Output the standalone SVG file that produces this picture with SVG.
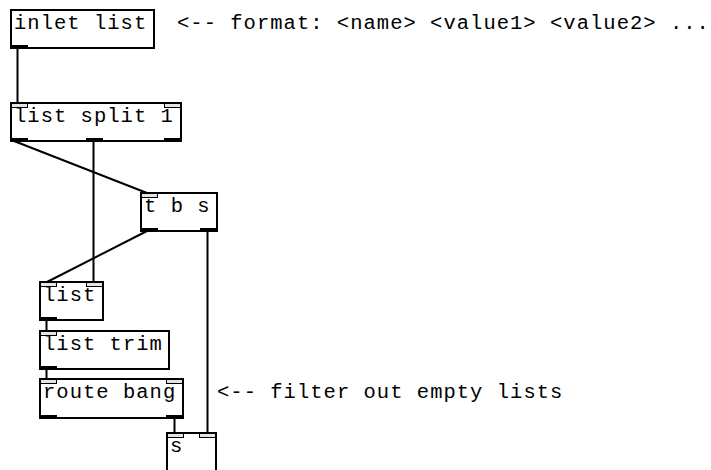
<svg xmlns="http://www.w3.org/2000/svg" width="711" height="470" viewBox="0 0 711 470">
<style>
.box{fill:#fff;stroke:#000;stroke-width:2}
.in{fill:#e4e4e4;stroke:#000;stroke-width:1}
.out{fill:#000}
.t{font-family:"Liberation Mono","DejaVu Sans Mono",monospace;font-size:20.5px;letter-spacing:1.02px;fill:#000}
.c{stroke:#000;stroke-width:2;fill:none}
</style>
<rect width="711" height="470" fill="#fff"/>
<g id="connectors">
<line class="c" x1="17.5" y1="48" x2="17.5" y2="103"/>
<line class="c" x1="14" y1="141" x2="147" y2="193"/>
<line class="c" x1="93.5" y1="141" x2="93.5" y2="282"/>
<line class="c" x1="147" y1="231" x2="47" y2="282"/>
<line class="c" x1="207.5" y1="231" x2="207.5" y2="433"/>
<line class="c" x1="46.5" y1="320" x2="46.5" y2="331"/>
<line class="c" x1="46.5" y1="369" x2="46.5" y2="379"/>
<line class="c" x1="174.5" y1="418" x2="174.5" y2="433"/>
</g>
<g id="inlet_list">
<rect class="box" x="11" y="10" width="143" height="38"/>
<text class="t" x="14" y="28.5">inlet list</text>
<rect class="out" x="11" y="45" width="17" height="4"/>
</g>
<g id="list_split">
<rect class="box" x="11" y="103" width="170" height="38"/>
<text class="t" x="14" y="121.5">list split 1</text>
<rect class="in" x="11.5" y="103.5" width="16" height="4"/>
<rect class="in" x="164.5" y="103.5" width="16" height="4"/>
<rect class="out" x="11" y="138" width="17" height="4"/>
<rect class="out" x="86" y="138" width="17" height="4"/>
<rect class="out" x="164" y="138" width="17" height="4"/>
</g>
<g id="t_b_s">
<rect class="box" x="141" y="193" width="76" height="38"/>
<text class="t" x="144" y="211.5">t b s</text>
<rect class="in" x="141.5" y="193.5" width="16" height="4"/>
<rect class="out" x="141" y="228" width="17" height="4"/>
<rect class="out" x="200" y="228" width="17" height="4"/>
</g>
<g id="list">
<rect class="box" x="40" y="282" width="63" height="38"/>
<text class="t" x="43" y="300.5">list</text>
<rect class="in" x="40.5" y="282.5" width="16" height="4"/>
<rect class="in" x="86.5" y="282.5" width="16" height="4"/>
<rect class="out" x="40" y="317" width="17" height="4"/>
</g>
<g id="list_trim">
<rect class="box" x="40" y="331" width="129" height="38"/>
<text class="t" x="43" y="349.5">list trim</text>
<rect class="in" x="40.5" y="331.5" width="16" height="4"/>
<rect class="out" x="40" y="366" width="17" height="4"/>
</g>
<g id="route_bang">
<rect class="box" x="40" y="379" width="143" height="39"/>
<text class="t" x="43" y="397.5">route bang</text>
<rect class="in" x="40.5" y="379.5" width="16" height="4"/>
<rect class="in" x="166.5" y="379.5" width="16" height="4"/>
<rect class="out" x="40" y="415" width="17" height="4"/>
<rect class="out" x="166" y="415" width="17" height="4"/>
</g>
<g id="s">
<rect class="box" x="167" y="433" width="49" height="40"/>
<text class="t" x="170" y="451.5">s</text>
<rect class="in" x="167.5" y="433.5" width="16" height="4"/>
<rect class="in" x="199.5" y="433.5" width="16" height="4"/>
</g>
<g id="comments">
<text class="t" x="177" y="28.5">&lt;-- format: &lt;name&gt; &lt;value1&gt; &lt;value2&gt; ...</text>
<text class="t" x="217" y="397.5">&lt;-- filter out empty lists</text>
</g>
</svg>
